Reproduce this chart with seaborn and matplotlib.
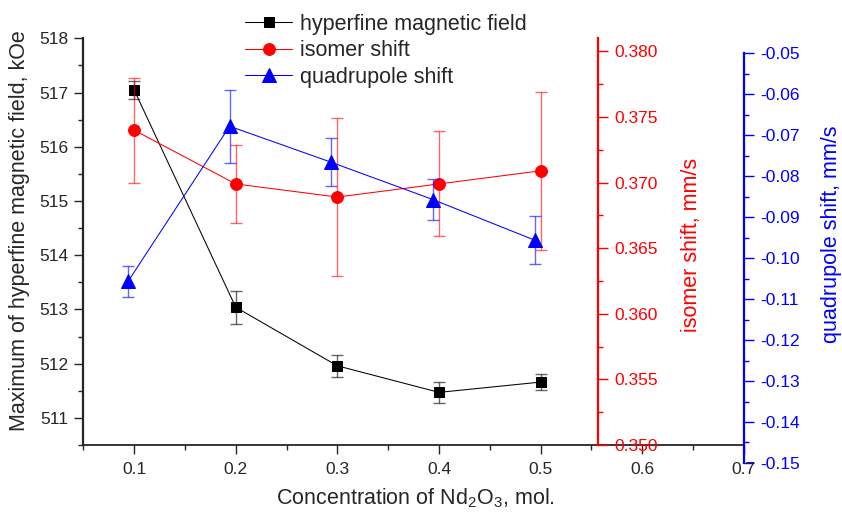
import seaborn as sns
import matplotlib.pyplot as plt
from matplotlib.ticker import MultipleLocator, FormatStrFormatter

# Nd2O3 concentration (mol.)
conc = [0.1, 0.2, 0.3, 0.4, 0.5]
conc_quad = [0.094, 0.194, 0.294, 0.394, 0.494]

# hyperfine magnetic field maximum, kOe
hf_field = [517.05, 513.04, 511.96, 511.47, 511.66]
hf_err = [0.17, 0.30, 0.20, 0.20, 0.15]

# isomer shift, mm/s
iso_shift = [0.3740, 0.3699, 0.3689, 0.3699, 0.3709]
iso_err = [0.0040, 0.0030, 0.0060, 0.0040, 0.0060]

# quadrupole shift, mm/s
quad_shift = [-0.1057, -0.0678, -0.0766, -0.0857, -0.0956]
quad_err = [0.0038, 0.0089, 0.0059, 0.0049, 0.0059]

sns.set_style('ticks')
plt.rcParams['font.family'] = ['Liberation Sans', 'DejaVu Sans']
plt.rcParams['mathtext.fontset'] = 'custom'
plt.rcParams['mathtext.rm'] = 'Liberation Sans'

fig = plt.figure(figsize=(8.42, 5.13), dpi=100)
ax = fig.add_axes([0.0989, 0.1326, 0.7846, 0.7927])
ax_red = ax.twinx()
ax_blue = fig.add_axes([0.0989, 0.0975, 0.7846, 0.7986])
ax_blue.patch.set_visible(False)

lbl_size = 15.5
tick_size = 12.5

# black: hyperfine field
ax.errorbar(conc, hf_field, yerr=hf_err, fmt='none', ecolor='k', alpha=0.6,
            elinewidth=1, capsize=4, capthick=1)
sns.lineplot(x=conc, y=hf_field, ax=ax, color='k', marker='s', markersize=7,
             mec='k', linewidth=0.75, label='hyperfine magnetic field')

# red: isomer shift
ax_red.errorbar(conc, iso_shift, yerr=iso_err, fmt='none', ecolor='red', alpha=0.6,
                elinewidth=1, capsize=4, capthick=1)
sns.lineplot(x=conc, y=iso_shift, ax=ax_red, color='red', marker='o', markersize=8.5,
             mec='red', linewidth=0.75, label='isomer shift')

# blue: quadrupole shift
ax_blue.errorbar(conc_quad, quad_shift, yerr=quad_err, fmt='none', ecolor='blue', alpha=0.6,
                 elinewidth=1, capsize=4, capthick=1)
sns.lineplot(x=conc_quad, y=quad_shift, ax=ax_blue, color='blue', marker='^', markersize=9.5,
             mec='blue', linewidth=0.75, label='quadrupole shift')

for a in (ax, ax_red, ax_blue):
    a.set_xlim(0.05, 0.7)
    if a.get_legend() is not None:
        a.get_legend().remove()

# main axes
ax.set_ylim(510.5, 518)
ax.yaxis.set_major_locator(MultipleLocator(1))
ax.yaxis.set_minor_locator(MultipleLocator(0.5))
ax.xaxis.set_major_locator(MultipleLocator(0.1))
ax.xaxis.set_minor_locator(MultipleLocator(0.05))
ax.xaxis.set_major_formatter(FormatStrFormatter('%.1f'))
ax.spines['top'].set_visible(False)
ax.spines['right'].set_visible(False)
ax.spines['left'].set_linewidth(1.6)
ax.spines['bottom'].set_linewidth(1.3)
ax.tick_params(axis='both', which='major', length=6.5, width=1, labelsize=tick_size, pad=4)
ax.tick_params(axis='both', which='minor', length=3.5, width=1)
ax.tick_params(axis='x', pad=6)
ax.set_xlabel('Concentration of Nd$_\\mathregular{2}$O$_\\mathregular{3}$, mol.', fontsize=lbl_size)
ax.set_ylabel('Maximum of hyperfine magnetic field, kOe', fontsize=lbl_size)
ax.xaxis.set_label_coords(415 / 842, 1 - 498 / 513, transform=fig.transFigure)
ax.xaxis.label.set_va('center')
ax.yaxis.set_label_coords(20 / 842, 1 - 231 / 513, transform=fig.transFigure)
ax.yaxis.label.set_va('center')

# red axis
ax_red.set_ylim(0.350, 0.381)
ax_red.yaxis.set_major_locator(MultipleLocator(0.005))
ax_red.yaxis.set_minor_locator(MultipleLocator(0.0025))
ax_red.yaxis.set_major_formatter(FormatStrFormatter('%.3f'))
for s in ('top', 'left', 'bottom'):
    ax_red.spines[s].set_visible(False)
ax_red.spines['right'].set_position(('axes', 0.779))
ax_red.spines['right'].set_color('red')
ax_red.spines['right'].set_linewidth(1.6)
ax_red.tick_params(axis='y', which='major', colors='red', length=7, width=1,
                   labelsize=tick_size, pad=5)
ax_red.tick_params(axis='y', which='minor', colors='red', length=3.5, width=1)
ax_red.set_ylabel('isomer shift, mm/s', fontsize=lbl_size, color='red')
ax_red.yaxis.set_label_coords(691 / 842, 1 - 245 / 513, transform=fig.transFigure)
ax_red.yaxis.label.set_va('center')

# blue axis
ax_blue.set_ylim(-0.15, -0.05)
ax_blue.yaxis.tick_right()
ax_blue.yaxis.set_label_position('right')
ax_blue.yaxis.set_major_locator(MultipleLocator(0.01))
ax_blue.yaxis.set_minor_locator(MultipleLocator(0.005))
ax_blue.yaxis.set_major_formatter(FormatStrFormatter('%.2f'))
ax_blue.set_xticks([])
for s in ('top', 'left', 'bottom'):
    ax_blue.spines[s].set_visible(False)
ax_blue.spines['right'].set_color('blue')
ax_blue.spines['right'].set_linewidth(1.6)
ax_blue.tick_params(axis='y', which='major', colors='blue', length=7, width=1,
                    labelsize=tick_size, pad=5)
ax_blue.tick_params(axis='y', which='minor', colors='blue', length=3.5, width=1)
ax_blue.set_ylabel('quadrupole shift, mm/s', fontsize=lbl_size, color='blue')
ax_blue.yaxis.set_label_coords(831 / 842, 1 - 234 / 513, transform=fig.transFigure)
ax_blue.yaxis.label.set_va('center')

# shared legend
handles = []
labels = []
for a in (ax, ax_red, ax_blue):
    h, l = a.get_legend_handles_labels()
    handles += h
    labels += l
fig.legend(handles, labels, loc='upper left', bbox_to_anchor=(245 / 842, 1 - 14 / 513),
           frameon=False, fontsize=lbl_size, handlelength=2.2, handletextpad=0.35,
           labelspacing=0.25, borderpad=0, borderaxespad=0)

fig.savefig('out.png', dpi=100)
